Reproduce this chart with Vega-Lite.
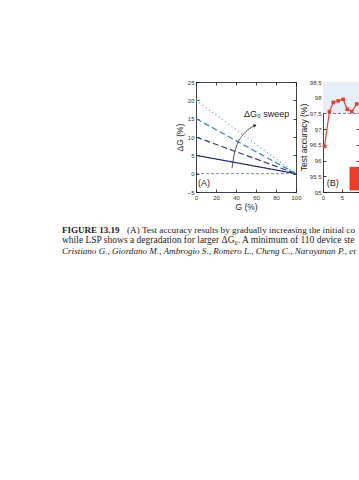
{
  "$schema": "https://vega.github.io/schema/vega-lite/v6.json",
  "padding": {"left": 62, "top": 79, "right": 0, "bottom": 5},
  "background": "white",
  "bounds": "flush",
  "spacing": 142.25,
  "config": {
    "view": {"stroke": null},
    "axis": {
      "grid": false, "domainColor": "#111", "domainWidth": 0.8,
      "tickColor": "#111", "tickWidth": 0.8, "tickSize": -3,
      "labelFont": "Liberation Sans", "labelFontSize": 6, "labelColor": "#333",
      "labelPadding": 5, "labelFlush": false,
      "titleFont": "Liberation Sans", "titleFontSize": 8.5, "titleFontWeight": "normal", "titleColor": "#222"
    }
  },
  "datasets": {
    "aLines": [
      {"s": "d5", "g": 0, "dg": 5}, {"s": "d5", "g": 100, "dg": 0},
      {"s": "d10", "g": 0, "dg": 10}, {"s": "d10", "g": 100, "dg": 0},
      {"s": "d15", "g": 0, "dg": 15}, {"s": "d15", "g": 100, "dg": 0},
      {"s": "d20", "g": 0, "dg": 20}, {"s": "d20", "g": 100, "dg": 0}
    ],
    "aZero": [{"g": 0, "dg": 0}, {"g": 100, "dg": 0}],
    "aArrow": [
      {"g": 36, "dg": 1.5}, {"g": 38, "dg": 5}, {"g": 41, "dg": 7.9},
      {"g": 47, "dg": 10.6}, {"g": 53, "dg": 12.2}, {"g": 58.5, "dg": 13.1}
    ],
    "aHead": [{"g": 59, "dg": 13.2}],
    "aText": [
      {"g": 48, "dg": 16.3, "t": "ΔG₀ sweep"},
      {"g": 2, "dg": -2.6, "t": "(A)"}
    ],
    "bShade": [{"x": 0, "x2": 9.5, "y": 97.5, "y2": 98.5}],
    "bBar": [{"x": 7, "x2": 9.5, "y": 95.05, "y2": 95.8}],
    "bRef": [{"x": 0, "y": 97.5}, {"x": 9.5, "y": 97.5}],
    "bAcc": [
      {"x": 0.4, "y": 96.45}, {"x": 1.7, "y": 97.56}, {"x": 2.7, "y": 97.85},
      {"x": 4.0, "y": 97.9}, {"x": 5.3, "y": 97.95}, {"x": 6.4, "y": 97.63},
      {"x": 7.6, "y": 97.56}, {"x": 8.9, "y": 97.8}
    ],
    "bText": [{"x": 1, "y": 95.3, "t": "(B)"}],
    "cap": [
      {"line": 1, "k": "b", "t": "FIGURE 13.19"},
      {"line": 1, "k": "r1", "t": "(A) Test accuracy results by gradually increasing the initial conductance"},
      {"line": 2, "k": "r", "t": "while LSP shows a degradation for larger ΔG₀. A minimum of 110 device steps"},
      {"line": 3, "k": "i", "t": "Cristiano G., Giordano M., Ambrogio S., Romero L., Cheng C., Narayanan P., et al."}
    ]
  },
  "vconcat": [
    {
      "bounds": "flush",
      "spacing": 27,
      "hconcat": [
        {
          "width": 100, "height": 110,
          "resolve": {"axis": {"x": "independent", "y": "independent"}},
          "layer": [
            {
              "data": {"name": "aLines"},
              "mark": {"type": "line", "strokeWidth": 1.2},
              "encoding": {
                "x": {"field": "g", "type": "quantitative", "scale": {"domain": [0, 100], "nice": false},
                      "axis": {"orient": "bottom", "values": [0, 20, 40, 60, 80, 100], "title": "G (%)", "titlePadding": 2}},
                "y": {"field": "dg", "type": "quantitative", "scale": {"domain": [-5, 25], "nice": false},
                      "axis": {"orient": "left", "values": [-5, 0, 5, 10, 15, 20, 25], "title": "ΔG (%)", "titlePadding": 3}},
                "color": {"field": "s", "type": "nominal",
                          "scale": {"domain": ["d5", "d10", "d15", "d20"], "range": ["#1c2470", "#2a3a8c", "#2f80c4", "#4cb5c6"]},
                          "legend": null},
                "strokeDash": {"field": "s", "type": "nominal",
                               "scale": {"domain": ["d5", "d10", "d15", "d20"], "range": [[1, 0], [6, 3], [6, 3], [1.2, 2.8]]},
                               "legend": null}
              }
            },
            {
              "data": {"name": "aZero"},
              "mark": {"type": "line", "color": "#555", "strokeWidth": 0.7, "strokeDash": [3, 2]},
              "encoding": {
                "x": {"field": "g", "type": "quantitative", "scale": {"domain": [0, 100], "nice": false},
                      "axis": {"orient": "top", "labels": false, "title": null, "values": [0, 20, 40, 60, 80, 100]}},
                "y": {"field": "dg", "type": "quantitative", "scale": {"domain": [-5, 25], "nice": false},
                      "axis": {"orient": "right", "labels": false, "title": null, "values": [-5, 0, 5, 10, 15, 20, 25]}}
              }
            },
            {
              "data": {"name": "aArrow"},
              "mark": {"type": "line", "color": "#222", "strokeWidth": 0.8, "interpolate": "monotone"},
              "encoding": {
                "x": {"field": "g", "type": "quantitative", "scale": {"domain": [0, 100], "nice": false}, "axis": null},
                "y": {"field": "dg", "type": "quantitative", "scale": {"domain": [-5, 25], "nice": false}, "axis": null}
              }
            },
            {
              "data": {"name": "aHead"},
              "mark": {"type": "point", "shape": "triangle-up", "filled": true, "color": "#222", "size": 14, "angle": 58, "opacity": 1},
              "encoding": {
                "x": {"field": "g", "type": "quantitative", "scale": {"domain": [0, 100], "nice": false}, "axis": null},
                "y": {"field": "dg", "type": "quantitative", "scale": {"domain": [-5, 25], "nice": false}, "axis": null}
              }
            },
            {
              "data": {"name": "aText"},
              "mark": {"type": "text", "align": "left", "baseline": "middle", "font": "Liberation Sans", "fontSize": 9, "color": "#222"},
              "encoding": {
                "x": {"field": "g", "type": "quantitative", "scale": {"domain": [0, 100], "nice": false}, "axis": null},
                "y": {"field": "dg", "type": "quantitative", "scale": {"domain": [-5, 25], "nice": false}, "axis": null},
                "text": {"field": "t"}
              }
            }
          ]
        },
        {
          "width": 36, "height": 110,
          "resolve": {"axis": {"x": "independent", "y": "independent"}},
          "layer": [
            {
              "data": {"name": "bShade"},
              "mark": {"type": "rect", "color": "#e6eff8"},
              "encoding": {
                "x": {"field": "x", "type": "quantitative", "scale": {"domain": [0, 9.5], "nice": false}, "axis": null},
                "x2": {"field": "x2"},
                "y": {"field": "y", "type": "quantitative", "scale": {"domain": [95, 98.5], "nice": false}, "axis": null},
                "y2": {"field": "y2"}
              }
            },
            {
              "data": {"name": "bBar"},
              "mark": {"type": "rect", "color": "#ee3b24"},
              "encoding": {
                "x": {"field": "x", "type": "quantitative", "scale": {"domain": [0, 9.5], "nice": false}, "axis": null},
                "x2": {"field": "x2"},
                "y": {"field": "y", "type": "quantitative", "scale": {"domain": [95, 98.5], "nice": false}, "axis": null},
                "y2": {"field": "y2"}
              }
            },
            {
              "data": {"name": "bRef"},
              "mark": {"type": "line", "color": "#3b3fa8", "strokeWidth": 0.7, "strokeDash": [3, 2]},
              "encoding": {
                "x": {"field": "x", "type": "quantitative", "scale": {"domain": [0, 9.5], "nice": false},
                      "axis": {"orient": "top", "labels": false, "title": null, "values": [0, 5]}},
                "y": {"field": "y", "type": "quantitative", "scale": {"domain": [95, 98.5], "nice": false},
                      "axis": {"orient": "right", "labels": false, "title": null, "values": [95, 95.5, 96, 96.5, 97, 97.5, 98, 98.5]}}
              }
            },
            {
              "data": {"name": "bAcc"},
              "mark": {"type": "line", "color": "#e8412b", "strokeWidth": 1.2,
                       "point": {"filled": true, "shape": "square", "size": 13, "color": "#e8412b", "opacity": 1}},
              "encoding": {
                "x": {"field": "x", "type": "quantitative", "scale": {"domain": [0, 9.5], "nice": false},
                      "axis": {"orient": "bottom", "values": [0, 5], "title": null}},
                "y": {"field": "y", "type": "quantitative", "scale": {"domain": [95, 98.5], "nice": false},
                      "axis": {"orient": "left", "values": [95, 95.5, 96, 96.5, 97, 97.5, 98, 98.5], "format": "~g",
                               "title": "Test accuracy (%)", "titlePadding": 1}}
              }
            },
            {
              "data": {"name": "bText"},
              "mark": {"type": "text", "align": "left", "baseline": "middle", "font": "Liberation Sans", "fontSize": 9, "color": "#222"},
              "encoding": {
                "x": {"field": "x", "type": "quantitative", "scale": {"domain": [0, 9.5], "nice": false}, "axis": null},
                "y": {"field": "y", "type": "quantitative", "scale": {"domain": [95, 98.5], "nice": false}, "axis": null},
                "text": {"field": "t"}
              }
            }
          ]
        }
      ]
    },
    {
      "width": 163, "height": 31.5,
      "data": {"name": "cap"},
      "encoding": {
        "x": {"datum": 0, "type": "quantitative", "scale": {"domain": [0, 1]}, "axis": null},
        "y": {"field": "line", "type": "quantitative", "scale": {"domain": [0.5, 3.5], "reverse": true, "nice": false}, "axis": null},
        "text": {"field": "t"}
      },
      "layer": [
        {
          "transform": [{"filter": "datum.k === 'b'"}],
          "mark": {"type": "text", "align": "left", "baseline": "middle", "font": "Liberation Serif", "fontSize": 9, "fontWeight": "bold", "color": "#222", "dx": -134}
        },
        {
          "transform": [{"filter": "datum.k === 'r1'"}],
          "mark": {"type": "text", "align": "left", "baseline": "middle", "font": "Liberation Serif", "fontSize": 9.2, "color": "#222", "dx": -69, "limit": 232, "ellipsis": "\u200b"}
        },
        {
          "transform": [{"filter": "datum.k === 'r'"}],
          "mark": {"type": "text", "align": "left", "baseline": "middle", "font": "Liberation Serif", "fontSize": 9.5, "color": "#222", "dx": -134, "limit": 297, "ellipsis": "\u200b"}
        },
        {
          "transform": [{"filter": "datum.k === 'i'"}],
          "mark": {"type": "text", "align": "left", "baseline": "middle", "font": "Liberation Serif", "fontSize": 9.1, "fontStyle": "italic", "color": "#222", "dx": -134, "limit": 297, "ellipsis": "\u200b"}
        }
      ]
    }
  ]
}
